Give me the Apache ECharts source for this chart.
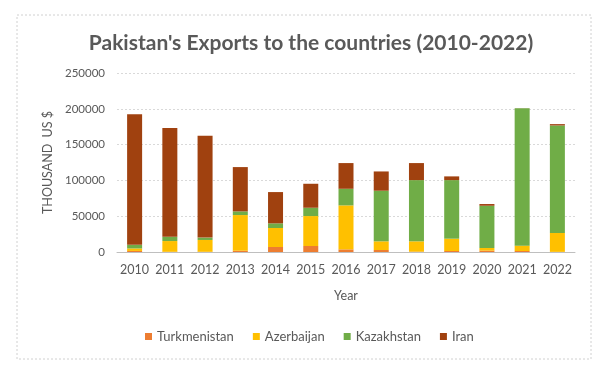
<!DOCTYPE html>
<html>
<head>
<meta charset="utf-8">
<script src="https://cdn.jsdelivr.net/npm/echarts@6/dist/echarts.min.js"></script>
<style>
  html, body { margin: 0; padding: 0; background: #fff; }
  #chart { width: 605px; height: 376px; }
</style>
</head>
<body>
<div id="chart"></div>
<script>
// values (thousand US $)
const years = ["2010", "2011", "2012", "2013", "2014", "2015", "2016", "2017", "2018", "2019", "2020", "2021", "2022"];
const turkmenistan = [1500, 300, 300, 1800, 7000, 8400, 3700, 2800, 500, 1400, 1900, 1400, 200];
const azerbaijan = [3500, 15000, 16500, 49800, 26500, 41800, 61400, 12100, 14400, 17200, 3700, 7400, 26300];
const kazakhstan = [5000, 6000, 3300, 5100, 6500, 11600, 23200, 70700, 85500, 81800, 59000, 192000, 150200];
const iran = [182500, 152000, 142300, 61900, 43700, 33500, 35900, 26900, 23800, 5200, 2400, 100, 1900];

const chart = echarts.init(document.getElementById("chart"));
const font = "Lato, 'Open Sans', sans-serif";

function bar(name, data, color) {
  return {
    name: name,
    type: "bar",
    stack: "total",
    data: data,
    barWidth: 15,
    itemStyle: { color: color }
  };
}

chart.setOption({
  animation: false,
  textStyle: { fontFamily: font },
  title: {
    text: "Pakistan's Exports to the countries (2010-2022)",
    left: 306,
    top: 28,
    textAlign: "center",
    textStyle: { fontSize: 21, fontWeight: "bold", color: "#595959", fontFamily: font }
  },
  graphic: [{
    type: "rect",
    shape: { x: 17, y: 15, width: 574, height: 344 },
    style: { fill: "none", stroke: "#d0d0d0", lineWidth: 1, lineDash: [2, 2] },
    silent: true
  }],
  legend: {
    top: 325,
    left: 140,
    itemWidth: 7,
    itemHeight: 7,
    itemGap: 19,
    icon: "rect",
    textStyle: { fontSize: 13, color: "#595959", fontFamily: font },
    data: ["Turkmenistan", "Azerbaijan", "Kazakhstan", "Iran"]
  },
  grid: { left: 117, right: 30, top: 73, bottom: 124 },
  xAxis: {
    type: "category",
    data: years,
    name: "Year",
    nameLocation: "middle",
    nameGap: 37,
    nameTextStyle: { fontSize: 12.5, color: "#595959" },
    axisTick: { show: false },
    axisLine: { lineStyle: { color: "#bfbfbf" } },
    axisLabel: { fontSize: 12.5, color: "#595959", margin: 11, interval: 0 }
  },
  yAxis: {
    type: "value",
    min: 0,
    max: 250000,
    interval: 50000,
    name: "THOUSAND  US $",
    nameLocation: "middle",
    nameGap: 58,
    nameTextStyle: { fontSize: 12.5, color: "#595959" },
    axisLabel: { fontSize: 11.5, color: "#595959", margin: 12, formatter: v => String(v) },
    splitLine: { lineStyle: { color: "#d9d9d9", type: [2, 2] } }
  },
  series: [
    bar("Turkmenistan", turkmenistan, "#ED7D31"),
    bar("Azerbaijan", azerbaijan, "#FFC000"),
    bar("Kazakhstan", kazakhstan, "#70AD47"),
    bar("Iran", iran, "#A0410F")
  ]
});
</script>
</body>
</html>
